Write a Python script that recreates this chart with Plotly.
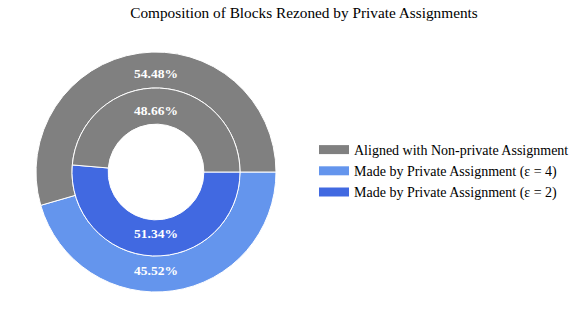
import plotly.graph_objects as go

labels_outer = ["Aligned with Non-private Assignment", "Made by Private Assignment (ε = 4)"]
values_outer = [54.48, 45.52]
labels_inner = ["Aligned with Non-private Assignment", "Made by Private Assignment (ε = 2)"]
values_inner = [48.66, 51.34]
legend_labels = [
    "Aligned with Non-private Assignment",
    "Made by Private Assignment (ε = 4)",
    "Made by Private Assignment (ε = 2)",
]
colors_outer = ["#808080", "#6495ED"]
colors_inner = ["#808080", "#4169E1"]
legend_colors = ["#808080", "#6495ED", "#4169E1"]

W, H = 581, 327
FONT = "Liberation Serif"


def dom(cx, cy, r):
    return dict(x=[(cx - r) / W, (cx + r) / W], y=[(H - cy - r) / H, (H - cy + r) / H])


def ring(labels, values, colors, hole, r):
    # blue slice first, drawn clockwise from 3 o'clock, so grey ends up on top
    return go.Pie(
        labels=labels[::-1], values=values[::-1], sort=False,
        direction="clockwise", rotation=90, hole=hole,
        domain=dom(156, 172, r),
        marker=dict(colors=colors[::-1], line=dict(color="white", width=1)),
        texttemplate="%{percent:.2%}", textposition="inside",
        insidetextorientation="horizontal",
        textfont=dict(family=FONT, size=13.5, color="white", weight="bold"),
        showlegend=False, hoverinfo="label+percent",
    )


fig = go.Figure()
fig.add_trace(ring(labels_outer, values_outer, colors_outer, 0.70, 120))
fig.add_trace(ring(labels_inner, values_inner, colors_inner, 0.57, 84))

# legend boxes
for name, c in zip(legend_labels, legend_colors):
    fig.add_trace(go.Scatter(x=[None], y=[None], mode="lines", name=name,
                             line=dict(color=c, width=9)))

fig.update_layout(
    width=W, height=H,
    margin=dict(l=0, r=0, t=0, b=0),
    paper_bgcolor="white", plot_bgcolor="white",
    font=dict(family=FONT, color="black"),
    title=dict(text="Composition of Blocks Rezoned by Private Assignments",
               x=304 / W, xanchor="center", y=1 - 13 / H, yanchor="middle",
               font=dict(family=FONT, size=15.3, color="black")),
    xaxis=dict(visible=False), yaxis=dict(visible=False),
    legend=dict(x=314 / W, xanchor="left", y=1 - 171 / H, yanchor="middle",
                font=dict(family=FONT, size=14, color="black"),
                tracegroupgap=0, bgcolor="rgba(0,0,0,0)"),
)

fig.write_html("out.html", config={"displayModeBar": False},
               post_script="document.body.style.margin='0';")
